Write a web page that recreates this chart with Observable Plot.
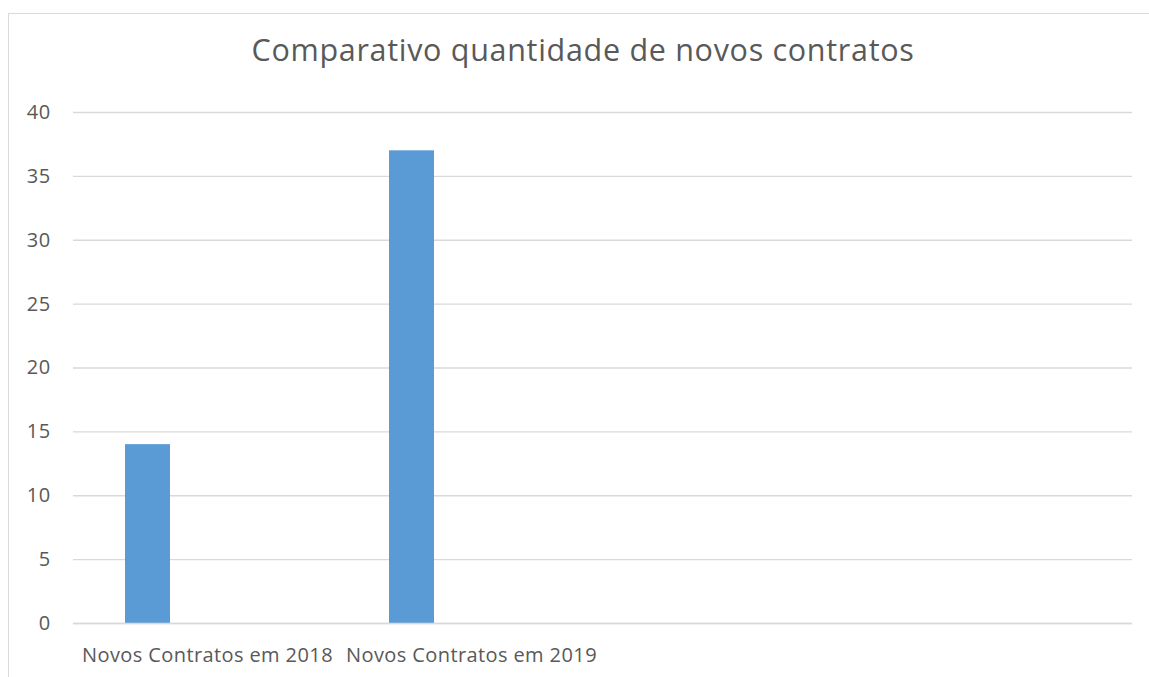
<!DOCTYPE html>
<html>
<head>
<meta charset="utf-8">
<script src="https://cdn.jsdelivr.net/npm/d3@7"></script>
<script src="https://cdn.jsdelivr.net/npm/@observablehq/plot@0.6"></script>
<style>
  html, body { margin: 0; padding: 0; background: #fff; }
  #wrap { position: relative; width: 1149px; height: 677px; overflow: hidden; font-family: "Open Sans", Lato, sans-serif; }
  #frame { position: absolute; left: 8px; top: 13px; width: 1200px; height: 700px; border-left: 1px solid #d9d9d9; border-top: 1px solid #d9d9d9; }
  #title { position: absolute; left: 8px; width: 1150px; top: 28px; text-align: center; font-size: 30.5px; letter-spacing: 0.7px; color: #595959; white-space: nowrap; }
  #chart { position: absolute; left: 0; top: 90px; }
  #chart svg text { font-size: 20px; letter-spacing: 0.4px; fill: #595959; }
</style>
</head>
<body>
<div id="wrap">
  <div id="frame"></div>
  <div id="title">Comparativo quantidade de novos contratos</div>
  <div id="chart"></div>
</div>
<script>
const categories = ["Novos Contratos em 2018", "Novos Contratos em 2019", "", " "];
const seriesCategories = ["Novos Contratos em 2018", "Novos Contratos em 2019"];
const seriesValues = [14, 37];
const yTicks = [0, 5, 10, 15, 20, 25, 30, 35, 40];

const data = seriesCategories.map((c, i) => ({cat: c, value: seriesValues[i]}));

const plot = Plot.plot({
  width: 1149,
  height: 587,
  marginTop: 22,
  marginBottom: 54,
  marginLeft: 73,
  marginRight: 17,
  style: {fontFamily: "'Open Sans', Lato, sans-serif", fontSize: "20px", color: "#595959", background: "transparent"},
  x: {domain: categories, padding: 0, label: null},
  y: {domain: [0, 40], label: null},
  marks: [
    Plot.gridY(yTicks, {stroke: "#d9d9d9", strokeOpacity: 1, strokeWidth: 1.3}),
    Plot.axisY(yTicks, {tickSize: 0, tickPadding: 23, fontSize: 20, label: null}),
    Plot.axisX(categories, {tickSize: 0, tickPadding: 24, fontSize: 20, label: null, tickFormat: d => d.trim()}),
    Plot.barY(data, {x: "cat", y: "value", fill: "#5B9BD5", insetLeft: 50, insetRight: 169}),
    Plot.ruleY([0], {stroke: "#d9d9d9", strokeWidth: 1.3})
  ]
});
document.getElementById("chart").appendChild(plot);
</script>
</body>
</html>
